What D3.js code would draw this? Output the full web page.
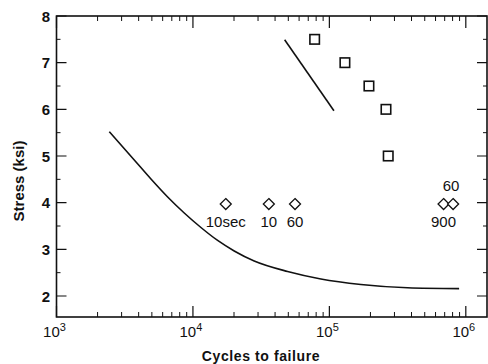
<!DOCTYPE html>
<html>
<head>
<meta charset="utf-8">
<script src="https://cdn.jsdelivr.net/npm/d3@7"></script>
<style>
	body { margin: 0; background: #fff; }
	svg { display: block; font-family: "Liberation Sans", Arial, Helvetica, sans-serif; }
</style>
</head>
<body>
<svg id="chart" width="488" height="364"></svg>
<script>
// Fitted S-N curve
const curveCycles = [2437, 3715, 4924, 6527, 8636, 11446, 15170, 20070, 28120, 49400, 86630, 170200, 374100, 893000];
const curveStress = [5.52, 4.915, 4.507, 4.122, 3.779, 3.468, 3.19, 2.965, 2.75, 2.525, 2.365, 2.247, 2.176, 2.157];

// short straight segment
const segCycles = [47000, 108000];
const segStress = [7.49, 5.97];

// square markers
const squareCycles = [78000, 130000, 195000, 260000, 270000];
const squareStress = [7.5, 7.0, 6.5, 6.0, 5.0];

// diamond markers + labels
const diamondCycles = [17400, 36000, 56000, 687000, 807000];
const diamondStress = [3.97, 3.97, 3.97, 3.97, 3.97];
const diamondLabels = ["10sec", "10", "60", "900", "60"];

const xMajor = [1e3, 1e4, 1e5, 1e6];
const xMajorExp = ["3", "4", "5", "6"];
const yMajor = [2, 3, 4, 5, 6, 7, 8];

const svg = d3.select("#chart");
const plotL = 56.5, plotR = 487, plotT = 16, plotB = 317;

const x = d3.scaleLog().domain([1e3, 1.43e6]).range([plotL, plotR]);
const y = d3.scaleLinear().domain([1.55, 8]).range([plotB, plotT]);

const ink = "#111";

// minor ticks
const xMinor = [];
for (let e = 3; e <= 6; e++) {
	for (let m = 2; m <= 9; m++) {
		const v = m * Math.pow(10, e);
		if (v < x.domain()[1]) xMinor.push(v);
	}
}
const yMinor = d3.range(2.5, 8, 1);

const g = svg.append("g").attr("stroke", ink).attr("fill", "none");

// frame
g.append("rect")
	.attr("x", plotL).attr("y", plotT)
	.attr("width", plotR - plotL).attr("height", plotB - plotT)
	.attr("stroke-width", 1.6);

// x ticks, bottom and top, pointing inward
g.selectAll(".xmaj").data(xMajor).join("path")
	.attr("stroke-width", 1.2)
	.attr("d", d => `M${x(d)},${plotB}V${plotB - 11}M${x(d)},${plotT}V${plotT + 12}`);
g.selectAll(".xmin").data(xMinor).join("path")
	.attr("stroke-width", 1)
	.attr("d", d => `M${x(d)},${plotB}V${plotB - 5}M${x(d)},${plotT}V${plotT + 5}`);

// y ticks, left and right
g.selectAll(".ymaj").data(yMajor).join("path")
	.attr("stroke-width", 1.2)
	.attr("d", d => `M${plotL},${y(d)}H${plotL + 10}M${plotR},${y(d)}H${plotR - 10}`);
g.selectAll(".ymin").data(yMinor).join("path")
	.attr("stroke-width", 1)
	.attr("d", d => `M${plotL},${y(d)}H${plotL + 4}M${plotR},${y(d)}H${plotR - 4}`);

// tick labels
const xt = svg.append("g").attr("fill", ink).attr("font-size", 15);
xMajor.forEach((v, i) => {
	const t = xt.append("text")
		.attr("x", x(v) - 2).attr("y", 337)
		.attr("text-anchor", "middle");
	t.append("tspan").text("10");
	t.append("tspan").attr("dy", -6).attr("font-size", 11).text(xMajorExp[i]);
});

svg.append("g").attr("fill", ink)
	.attr("font-size", 15).attr("font-weight", "bold")
	.selectAll("text").data(yMajor).join("text")
	.attr("x", 50).attr("y", d => y(d) + 5.5)
	.attr("text-anchor", "end")
	.text(d => d);

// axis titles
svg.append("text")
	.attr("x", 261).attr("y", 361)
	.attr("text-anchor", "middle")
	.attr("font-size", 14).attr("font-weight", "bold")
	.attr("letter-spacing", 0.6)
	.attr("fill", ink)
	.text("Cycles to  failure");

svg.append("text")
	.attr("transform", "translate(24,181) rotate(-90)")
	.attr("text-anchor", "middle")
	.attr("font-size", 15).attr("font-weight", "bold")
	.attr("fill", ink)
	.text("Stress (ksi)");

// lines
const line = d3.line()
	.x(d => x(d[0]))
	.y(d => y(d[1]))
	.curve(d3.curveMonotoneX);

svg.append("path")
	.datum(d3.zip(curveCycles, curveStress))
	.attr("fill", "none").attr("stroke", ink).attr("stroke-width", 1.6)
	.attr("d", line);

svg.append("path")
	.datum(d3.zip(segCycles, segStress))
	.attr("fill", "none").attr("stroke", ink).attr("stroke-width", 1.6)
	.attr("d", line.curve(d3.curveLinear));

// squares
const sq = 9.5;
svg.append("g").selectAll("rect")
	.data(d3.zip(squareCycles, squareStress))
	.join("rect")
	.attr("x", d => x(d[0]) - sq / 2)
	.attr("y", d => y(d[1]) - sq / 2)
	.attr("width", sq).attr("height", sq)
	.attr("fill", "#fff").attr("stroke", ink).attr("stroke-width", 1.6);

// diamonds
const dr = 5.5;
svg.append("g").selectAll("path")
	.data(d3.zip(diamondCycles, diamondStress))
	.join("path")
	.attr("d", d => {
		const cx = x(d[0]), cy = y(d[1]);
		return `M${cx},${cy - dr}L${cx + dr},${cy}L${cx},${cy + dr}L${cx - dr},${cy}Z`;
	})
	.attr("fill", "#fff").attr("stroke", ink).attr("stroke-width", 1.3);

svg.append("g").attr("fill", ink).attr("font-size", 15)
	.selectAll("text")
	.data(d3.zip(diamondCycles, diamondStress, diamondLabels))
	.join("text")
	.attr("text-anchor", "middle")
	.attr("x", (d, i) => x(d[0]) - (i === 4 ? 2 : 0))
	.attr("y", (d, i) => i === 4 ? y(d[1]) - 13 : y(d[1]) + 23)
	.text(d => d[2]);
</script>
</body>
</html>
